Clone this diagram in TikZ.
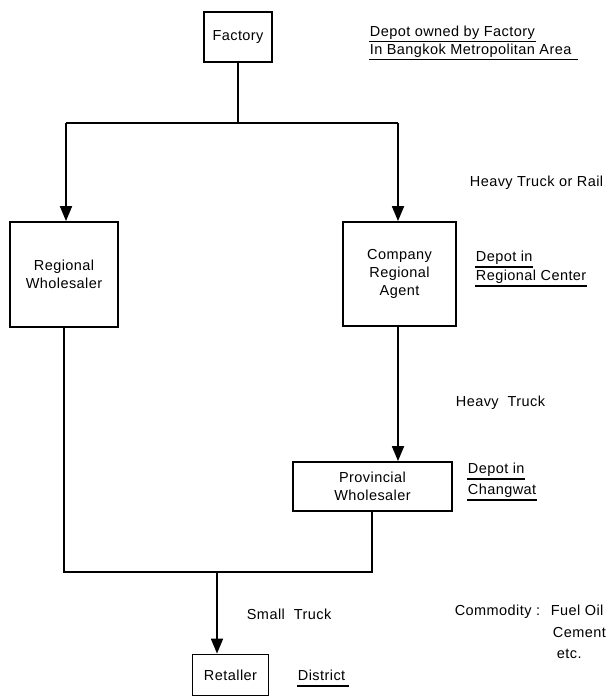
\documentclass[tikz,border=0pt]{standalone}
\usepackage{fontspec}
\setmainfont[LetterSpace = 3]{Liberation Sans}
\usetikzlibrary{arrows.meta}

\begin{document}
\begin{tikzpicture}
          [x = 1pt, y = -1pt, line width = 1.8pt,
           >= {Triangle[length = 15pt, width = 12pt]},
           box/.style = {draw, align = center, font = \fontsize{14.5}{18}\selectfont},
           lbl/.style = {anchor = west, inner xsep = 0pt, inner ysep = 1pt,
                         text height = 10.5pt, text depth = 3.5pt,
                         font = \fontsize{14.5}{18}\selectfont}]
          \useasboundingbox (0,0) rectangle (615,698);
          % boxes
          \node[box, minimum width = 68pt, minimum height = 50pt] (factory) at (238,37) {Factory};
          \node[box, minimum width = 108pt, minimum height = 105pt] (regw) at (64,274.5) {Regional\\Wholesaler};
          \node[box, minimum width = 113pt, minimum height = 104pt] (agent) at (399.5,274) {Company\\Regional\\Agent};
          \node[box, minimum width = 159pt, minimum height = 49pt] (prov) at (372.5,486.5) {Provincial\\Wholesaler};
          \node[box, minimum width = 76pt, minimum height = 41pt] (ret) at (230.5,675) {Retaller};
          % connectors
          \coordinate (jl) at (66,123);
          \coordinate (jr) at (398,123);
          \coordinate (bl) at (64,572);
          \coordinate (br) at (372,572);
          \coordinate (bm) at (217,572);
          \draw (factory.south) -- (factory.south |- jl);
          \draw (jl) -- (jr);
          \draw[->] (jl) -- (jl |- regw.north);
          \draw[->] (jr) -- (jr |- agent.north);
          \draw[->] (agent.south -| jr) -- (jr |- prov.north);
          \draw (regw.south) -- (bl) -- (br) -- (br |- prov.south);
          \draw[->] (bm) -- (bm |- ret.north);
          % labels
          \node[lbl] (fac1) at (369,33) {Depot owned by Factory};
          \node[lbl] (fac2) at (369,51) {In Bangkok Metropolitan Area};
          \draw[line width = 1.2pt] (fac1.south west) -- (fac1.south east);
          \draw[line width = 1.2pt] (fac2.south west) -- ([xshift = 6pt]fac2.south east);
          \node[lbl] (rail) at (469,183) {Heavy Truck or Rail};
          \node[lbl] (reg1) at (475,258) {Depot in};
          \node[lbl] (reg2) at (475,277) {Regional Center};
          \draw[line width = 1.2pt] (reg1.south west) -- (reg1.south east);
          \draw[line width = 1.2pt] (reg2.south west) -- (reg2.south east);
          \node[lbl] (truck) at (455,403) {Heavy \ Truck};
          \node[lbl] (chg1) at (467,470) {Depot in};
          \node[lbl] (chg2) at (467,491) {Changwat};
          \draw[line width = 1.2pt] (chg1.south west) -- (chg1.south east);
          \draw[line width = 1.2pt] (chg2.south west) -- (chg2.south east);
          \node[lbl] (small) at (246,616) {Small \ Truck};
          \node[lbl] (dist) at (297,677) {District};
          \draw[line width = 1.2pt] (dist.south west) -- ([xshift = 3pt]dist.south east);
          \node[lbl] (fuel) at (550,612) {Fuel Oil};
          \node[lbl, anchor = east] (comm) at ([xshift = -9pt]fuel.west) {Commodity :};
          \node[lbl] (cem) at (552,634) {Cement};
          \node[lbl] (etc) at (556,655) {etc.};
        \end{tikzpicture}
\end{document}
